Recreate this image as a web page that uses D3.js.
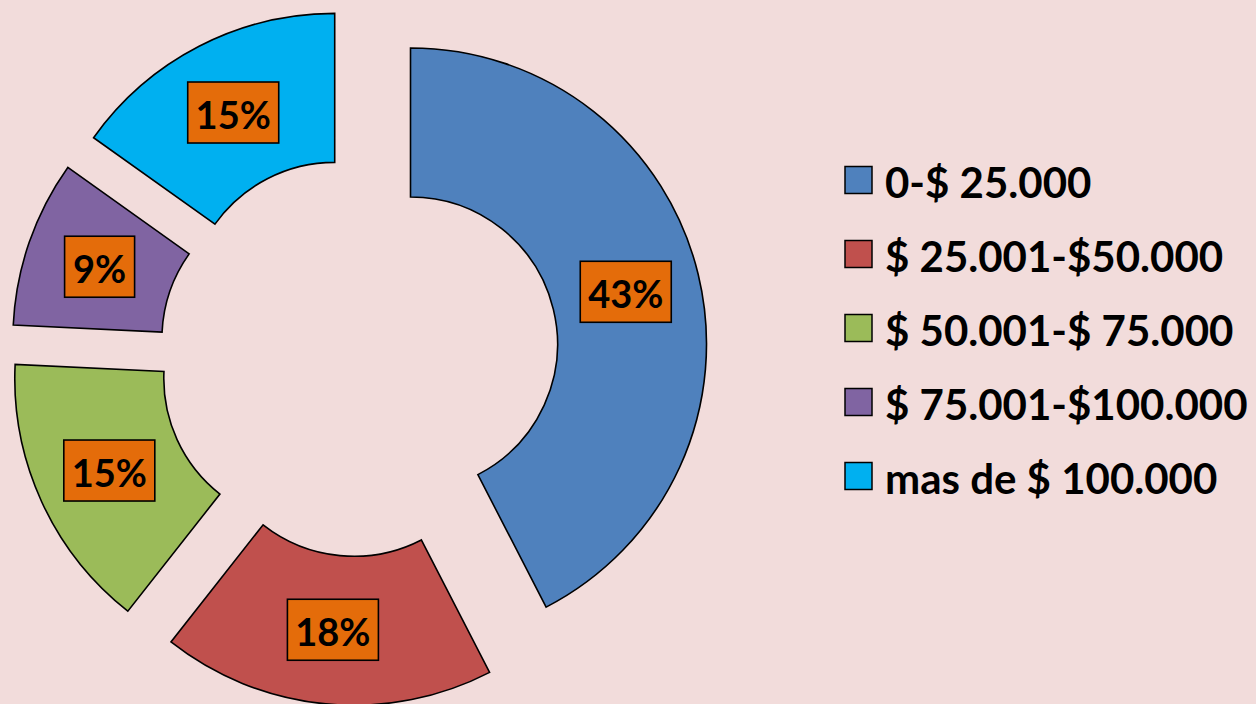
<!DOCTYPE html>
<html>
<head>
<meta charset="utf-8">
<script src="https://cdnjs.cloudflare.com/ajax/libs/d3/7.8.5/d3.min.js"></script>
<style>
  html, body { margin: 0; padding: 0; background: #F2DCDB; }
  svg { display: block; }
  text { font-family: Lato, Carlito, Calibri, sans-serif; font-weight: bold; fill: #000; }
</style>
</head>
<body>
<script>
const w = 1256,
  h = 704;

// chart data
const categories = ['0-$ 25.000', '$ 25.001-$50.000', '$ 50.001-$ 75.000', '$ 75.001-$100.000', 'mas de $ 100.000'];
const counts = [14, 6, 5, 3, 5];
const labels = ['43%', '18%', '15%', '9%', '15%'];
const colors = ['#4F81BD', '#C0504D', '#9BBB59', '#8064A2', '#00B0F0'];

const cx = 359,
  cy = 356.5,
  outerR = 296,
  innerR = 147,
  explode = 53;

const svg = d3.select('body').append('svg').attr('width', w).attr('height', h);

const pie = d3.pie().sort(null).value(d => d)(counts);
const arc = d3.arc().innerRadius(innerR).outerRadius(outerR);

const slices = svg
  .append('g')
  .attr('transform', `translate(${cx},${cy})`)
  .selectAll('g')
  .data(pie)
  .enter()
  .append('g')
  .attr('transform', d => {
    const a = (d.startAngle + d.endAngle) / 2;
    return `translate(${explode * Math.sin(a)},${-explode * Math.cos(a)})`;
  });

slices
  .append('path')
  .attr('d', arc)
  .attr('fill', (d, i) => colors[i])
  .attr('stroke', '#000')
  .attr('stroke-width', 1.6);

// data labels in orange boxes
slices.each(function (d, i) {
  const g = d3.select(this);
  const [lx, ly] = arc.centroid(d);
  g.append('text')
    .attr('x', lx)
    .attr('y', ly + 1)
    .attr('text-anchor', 'middle')
    .attr('dominant-baseline', 'central')
    .style('font-size', '38px')
    .text(labels[i]);
  const bw = labels[i].length < 3 ? 70 : 91,
    bh = 61;
  g.insert('rect', 'text')
    .attr('x', lx - bw / 2)
    .attr('y', ly - bh / 2)
    .attr('width', bw)
    .attr('height', bh)
    .attr('fill', '#E46C0A')
    .attr('stroke', '#000')
    .attr('stroke-width', 1.6);
});

// legend
const legend = svg
  .append('g')
  .selectAll('g')
  .data(categories)
  .enter()
  .append('g')
  .attr('transform', (d, i) => `translate(845,${180 + i * 74})`);

legend
  .append('rect')
  .attr('x', 0)
  .attr('y', -13.5)
  .attr('width', 27)
  .attr('height', 27)
  .attr('fill', (d, i) => colors[i])
  .attr('stroke', '#000')
  .attr('stroke-width', 1.5);

legend
  .append('text')
  .attr('x', 40)
  .attr('y', 2)
  .attr('dominant-baseline', 'central')
  .style('font-size', '42px')
  .text(d => d);
</script>
</body>
</html>
